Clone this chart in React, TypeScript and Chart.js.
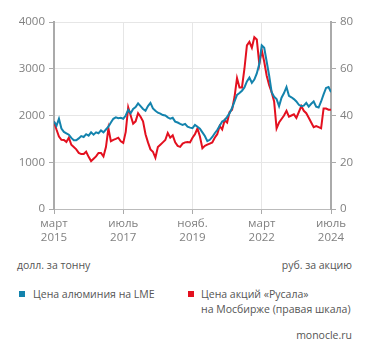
import React, { useEffect, useRef } from "react";
import { Chart, registerables } from "chart.js";

Chart.register(...registerables);

// Months since March 2015 (index = month offset), monthly values
const aluminium = [
  1870, 1780, 1930, 1720, 1650, 1620, 1590, 1520, 1470, 1470,
  1510, 1560, 1540, 1600, 1570, 1640, 1590, 1640, 1620, 1680,
  1640, 1700, 1760, 1850, 1930, 1960, 1940, 1950, 1930, 2000,
  2120, 2050, 2140, 2180, 2260, 2200, 2140, 2100, 2200, 2270,
  2150, 2100, 2060, 2040, 2010, 2000, 1960, 1930, 1950, 1870,
  1850, 1820, 1800, 1820, 1760, 1740, 1730, 1800, 1760, 1720,
  1640, 1560, 1450, 1480, 1540, 1620, 1690, 1780, 1870, 1900,
  1970, 2050, 2160, 2300, 2440, 2480, 2530, 2600, 2730, 2810,
  2700, 2770, 2900, 3100, 3500, 3450, 3150, 2850, 2500, 2400,
  2350, 2200, 2380, 2480, 2610, 2420, 2390, 2350, 2300, 2230,
  2200, 2210, 2270, 2190, 2250, 2300, 2190, 2170, 2300, 2450,
  2590, 2610, 2500,
];

const rusal = [
  37.4, 34, 31, 29.6, 29.5, 28.7, 30.5, 27.5, 26.5, 25.5,
  24, 23.5, 23.5, 24.5, 22.3, 20.5, 21.5, 22.5, 24, 24,
  22.5, 26.5, 34.5, 29, 29.6, 30, 30.5, 29, 28.3, 33,
  43.5, 40, 36.5, 37.5, 41, 39.5, 37.5, 32, 28.5, 25.5,
  24.5, 21.9, 26.5, 27.5, 28.5, 29.5, 32.5, 30.5, 31.5, 28.5,
  27, 26.6, 28, 28.5, 28.7, 28.5, 30.5, 32, 34.5, 31,
  26, 27, 27.5, 28, 28.5, 30.5, 32, 35.5, 34, 38,
  37, 41.5, 42.5, 48, 56, 52, 52, 60, 70, 71.5,
  69, 73.5, 72.5, 62, 68, 63, 57, 53, 50, 46,
  34.5, 37, 38.5, 40, 42, 39.5, 40, 40.5, 39, 41.5,
  44, 42, 41, 39, 37, 35, 35.5, 35, 34.5, 43,
  43, 42.5, 42.5,
];

const tickMonths = [0, 28, 56, 84, 112];
const tickLabels = [
  ["март", "2015"],
  ["июль", "2017"],
  ["нояб.", "2019"],
  ["март", "2022"],
  ["июль", "2024"],
];
const leftTicks = [0, 1000, 2000, 3000, 4000];
const rightTicks = [0, 20, 40, 60, 80];

const BLUE = "#1383ad";
const RED = "#e3101f";
const FONT = "'Open Sans', sans-serif";

export default function App() {
  const ref = useRef<HTMLCanvasElement>(null);

  useEffect(() => {
    document.body.style.margin = "0";
    const ctx = ref.current!;
    const chart = new Chart(ctx, {
      type: "line",
      data: {
        datasets: [
          {
            label: "Цена алюминия на LME",
            data: aluminium.map((v, i) => ({ x: i, y: v })),
            borderColor: BLUE,
            borderWidth: 2,
            pointRadius: 0,
            yAxisID: "y",
            tension: 0,
          },
          {
            label: "Цена акций «Русала» на Мосбирже (правая шкала)",
            data: rusal.map((v, i) => ({ x: i, y: v })),
            borderColor: RED,
            borderWidth: 2,
            pointRadius: 0,
            yAxisID: "y1",
            tension: 0,
          },
        ],
      },
      options: {
        responsive: false,
        animation: false,
        devicePixelRatio: 1,
        layout: { padding: { top: 22, left: 0, right: 0, bottom: 0 } },
        plugins: { legend: { display: false }, tooltip: { enabled: false } },
        scales: {
          x: {
            type: "linear",
            min: 0,
            max: 112,
            afterBuildTicks: (s: any) => {
              s.ticks = tickMonths.map((v) => ({ value: v }));
            },
            afterFit: (s: any) => {
              s.height = 41;
            },
            ticks: {
              autoSkip: false,
              maxRotation: 0,
              padding: 3,
              color: "#808080",
              font: { family: FONT, size: 11.5, lineHeight: 1.2 },
              callback: (value: any) => {
                const i = tickMonths.indexOf(Number(value));
                return i >= 0 ? tickLabels[i] : "";
              },
            },
            grid: {
              color: "#e6e6e6",
              lineWidth: 1,
              tickLength: 5,
              tickColor: "#aaa",
            },
            border: { color: "#bbb", width: 1 },
          },
          y: {
            position: "left",
            min: 0,
            max: 4000,
            afterBuildTicks: (s: any) => {
              s.ticks = leftTicks.map((v) => ({ value: v }));
            },
            afterFit: (s: any) => {
              s.width = 54;
            },
            ticks: {
              padding: 4,
              color: "#808080",
              font: { family: FONT, size: 11.5 },
              callback: (v: any) => String(v),
            },
            grid: {
              color: "#e6e6e6",
              lineWidth: 1,
              tickLength: 5,
              tickColor: "#aaa",
            },
            border: { color: "#aaa", width: 2 },
          },
          y1: {
            position: "right",
            min: 0,
            max: 80,
            afterBuildTicks: (s: any) => {
              s.ticks = rightTicks.map((v) => ({ value: v }));
            },
            afterFit: (s: any) => {
              s.width = 40;
            },
            ticks: {
              padding: 4,
              color: "#808080",
              font: { family: FONT, size: 11.5 },
              callback: (v: any) => String(v),
            },
            grid: {
              drawOnChartArea: false,
              tickLength: 5,
              tickColor: "#aaa",
            },
            border: { color: "#aaa", width: 2 },
          },
        },
      },
    });
    return () => chart.destroy();
  }, []);

  const text: React.CSSProperties = {
    position: "absolute",
    fontFamily: FONT,
    fontSize: 10.5,
    color: "#555",
    lineHeight: "15px",
    whiteSpace: "nowrap",
  };
  const sq = (c: string, left: number, top: number): React.CSSProperties => ({
    position: "absolute",
    left,
    top,
    width: 6,
    height: 6,
    background: c,
  });

  return (
    <div
      style={{
        position: "absolute",
        left: 0,
        top: 0,
        width: 371,
        height: 357,
        background: "#fff",
        overflow: "hidden",
      }}
    >
      <canvas ref={ref} width={371} height={250} style={{ display: "block" }} />
      <div style={{ ...text, left: 17, top: 257.5 }}>долл. за тонну</div>
      <div style={{ ...text, right: 19, top: 257.5, textAlign: "right" }}>руб. за акцию</div>
      <div style={sq(BLUE, 19, 291)} />
      <div style={{ ...text, left: 33, top: 286.5 }}>Цена алюминия на LME</div>
      <div style={sq(RED, 188, 291)} />
      <div style={{ ...text, left: 201, top: 286.5 }}>
        Цена акций «Русала»
        <br />
        на Мосбирже (правая шкала)
      </div>
      <div style={{ ...text, right: 19, top: 327.5, textAlign: "right" }}>monocle.ru</div>
    </div>
  );
}
